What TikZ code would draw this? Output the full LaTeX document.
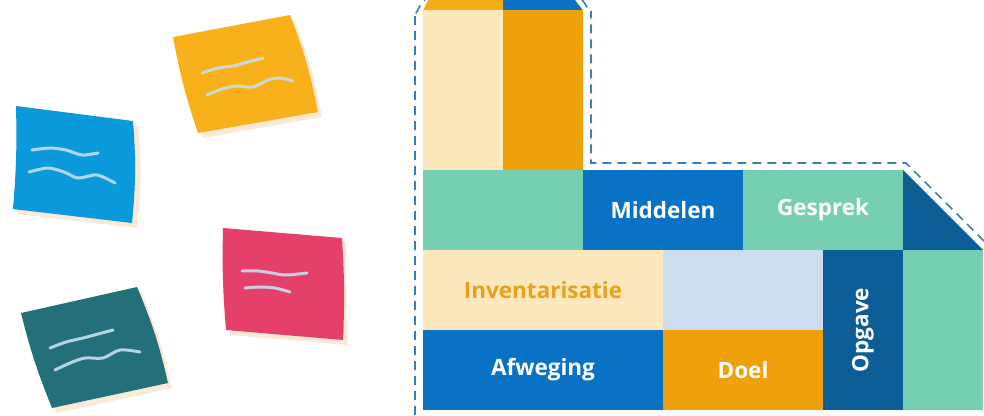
\documentclass[tikz,border=0pt]{standalone}
\usepackage{fontspec}
\setmainfont{Open Sans}
\definecolor{lyel}{HTML}{FDE7BC}
\definecolor{org}{HTML}{EFA10C}
\definecolor{orgtop}{HTML}{F6AD12}
\definecolor{blu}{HTML}{0A72C4}
\definecolor{tea}{HTML}{76CFB2}
\definecolor{dblu}{HTML}{0B5F96}
\definecolor{lblu}{HTML}{CCDEF0}
\definecolor{sblue}{HTML}{0A9ADB}
\definecolor{sorange}{HTML}{F8B11A}
\definecolor{spink}{HTML}{E5406A}
\definecolor{steal}{HTML}{236F7A}
\definecolor{shad}{HTML}{F7E4CC}
\definecolor{wave}{HTML}{C6DFEE}
\definecolor{dashc}{HTML}{3A80B8}
\definecolor{invtxt}{HTML}{E9A01A}
\tikzset{
  lbl/.style={font=\fontsize{22.5}{26}\selectfont\bfseries, text=white},
  blk/.style={inner sep=0pt, outer sep=0pt, draw=none, anchor=north west, lbl},
  wavy/.style={draw=wave, line width=3pt, line cap=round, opacity=0.9},
  outline/.style={draw=dashc, line width=1.6pt, dash pattern=on 9pt off 6pt},
  noteshadow/.style={fill=shad, draw=none, opacity=0.8}
}
\begin{document}
\begin{tikzpicture}[x=1pt,y=-1pt]
\useasboundingbox (0,0) rectangle (984,415);
% ---------- sticky notes ----------
% blue
\fill[noteshadow] (19,110) -- (138,125) to[bend left=6] (137,228) -- (17,214) -- cycle;
\fill[sblue] (16,106) -- (133,121) to[bend left=5] (132,223) -- (13,209) to[bend right=3] cycle;
\draw[wavy] plot[smooth] coordinates {(32,150) (50,148) (66,150) (82,155) (98,153)};
\draw[wavy] plot[smooth] coordinates {(29,172) (48,168) (64,172) (78,178) (97,175) (115,183)};
% orange
\fill[noteshadow] (178,41) -- (294,19) to[bend left=5] (322,117) -- (203,138) -- cycle;
\fill[sorange] (173,37) -- (290,15) to[bend left=5] (318,112) -- (198,133) to[bend left=4] cycle;
\draw[wavy] plot[smooth] coordinates {(202,73) (218,68) (233,66) (248,62) (263,58)};
\draw[wavy] plot[smooth] coordinates {(207,95) (222,89) (236,86) (253,87) (268,80) (280,78) (293,81)};
% pink
\fill[noteshadow] (227,232) -- (346,242) -- (347,345) -- (230,335) -- cycle;
\fill[spink] (223,228) -- (342,238) to[bend left=3] (343,340) -- (226,330) to[bend left=3] cycle;
\draw[wavy] plot[smooth] coordinates {(242,271) (258,271) (272,273) (286,275) (307,273)};
\draw[wavy] plot[smooth] coordinates {(245,288) (260,287) (275,288) (290,292)};
% teal
\fill[noteshadow] (25,317) -- (141,291) to[bend left=5] (172,388) -- (56,413) -- cycle;
\fill[steal] (21,313) -- (137,287) to[bend left=5] (168,383) -- (52,408) to[bend left=4] cycle;
\draw[wavy] plot[smooth] coordinates {(50,348) (66,342) (83,338) (98,334) (113,330)};
\draw[wavy] plot[smooth] coordinates {(55,370) (70,363) (85,358) (103,358) (120,350) (140,352)};
% ---------- block diagram ----------
% top strip
\fill[orgtop] (428,0) -- (503,0) -- (503,10.5) -- (423,10.5) -- cycle;
\fill[blu] (503,0) -- (575,0) -- (583,10.5) -- (503,10.5) -- cycle;
% column
\node[blk, fill=lyel, minimum width=80pt, minimum height=160pt] (colL) at (423,10) {};
\node[blk, fill=org, minimum width=80pt, minimum height=160pt] (colR) at (503,10) {};
% row 2
\node[blk, fill=tea, minimum width=160pt, minimum height=80pt] (t1) at (423,170) {};
\node[blk, fill=blu, minimum width=160pt, minimum height=80pt] (mid) at (583,170) {Middelen};
\node[blk, fill=tea, minimum width=160pt, minimum height=80pt] (ges) at (743,170) {Gesprek};
\fill[dblu] (903,170) -- (983,250) -- (903,250) -- cycle;
% row 3
\node[blk, fill=lyel, text=invtxt, minimum width=240pt, minimum height=80pt] (inv) at (423,250) {Inventarisatie};
\node[blk, fill=lblu, minimum width=160pt, minimum height=80pt] (lb) at (663,250) {};
\node[blk, fill=dblu, minimum width=80pt, minimum height=160pt] (opg) at (823,250) {};
\node[blk, fill=tea, minimum width=80pt, minimum height=160pt] (t2) at (903,250) {};
\node[lbl, rotate=90, inner sep=0pt] (opgl) at (opg.center) {Opgave};
% row 4
\node[blk, fill=blu, minimum width=240pt, minimum height=80pt] (afw) at (423,330) {Afweging};
\node[blk, fill=org, minimum width=160pt, minimum height=80pt] (doel) at (663,330) {Doel};
% dashed outline
\draw[outline] (415,415) -- (415,12) to[out=-90,in=210] (425,0);
\draw[outline] (582,0) to[out=-40,in=-90] (591,11) -- (591,163) -- (906,163) -- (984,241);
\end{tikzpicture}
\end{document}
